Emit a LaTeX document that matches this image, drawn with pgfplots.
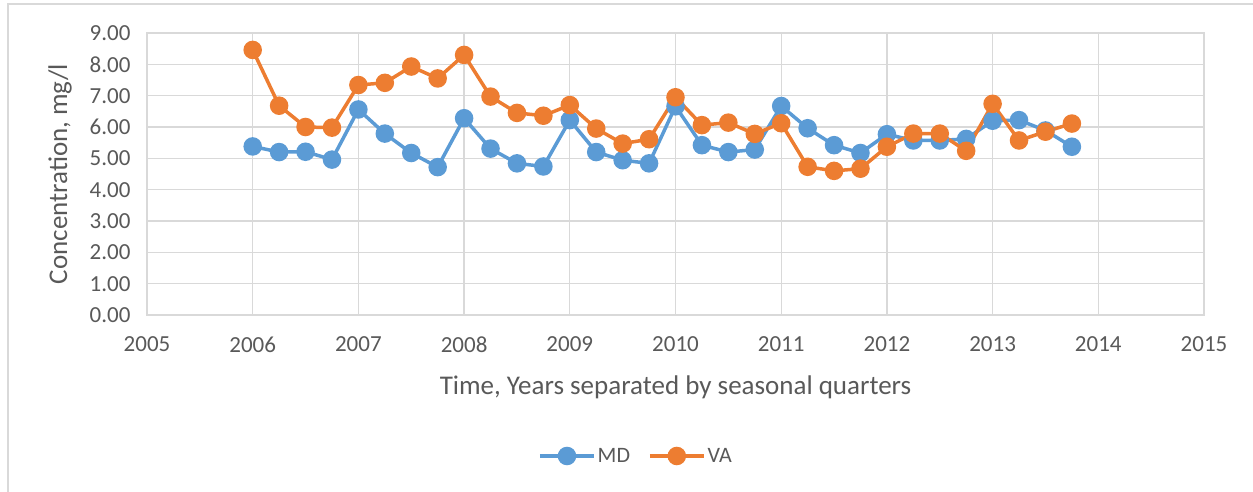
\documentclass[border=0pt]{standalone}
\usepackage{fontspec}
\setmainfont{Carlito}
\usepackage{pgfplots}
\pgfplotsset{compat=1.18}
\definecolor{mdblue}{HTML}{5B9BD5}
\definecolor{vaorange}{HTML}{ED7D31}
\definecolor{txtgray}{HTML}{595959}
\definecolor{gridgray}{HTML}{D9D9D9}
\definecolor{axgray}{HTML}{C8C8C8}
\begin{document}
\begin{tikzpicture}
\path[use as bounding box] (0bp,0bp) rectangle (1253bp,492bp);
\draw[gridgray, line width=2bp] (8bp,0bp) -- (8bp,488bp) -- (1253bp,488bp);
\begin{axis}[
  at={(147bp,177bp)}, anchor=south west,
  scale only axis, width=1057bp, height=282bp,
  xmin=2005, xmax=2015, ymin=0, ymax=9,
  xtick={2005,2006,...,2015}, ytick={0,1,...,9},
  grid=major, major grid style={gridgray, line width=1.3bp},
  axis line style={gridgray, line width=1.3bp},
  x axis line style={axgray},
  tick style={draw=none},
  /pgf/number format/assume math mode=true,
  xticklabel style={font=\fontsize{23bp}{27bp}\selectfont, text=txtgray, yshift=-18bp,
    /pgf/number format/set thousands separator={}},
  yticklabel style={font=\fontsize{23bp}{27bp}\selectfont, text=txtgray, xshift=-13bp,
    /pgf/number format/fixed, /pgf/number format/fixed zerofill, /pgf/number format/precision=2},
  xlabel={Time, Years separated by seasonal quarters},
  ylabel={Concentration, mg/l},
  every axis x label/.style={at={(axis description cs:0.5,-0.2553)}, anchor=center,
    font=\fontsize{27bp}{31bp}\selectfont, text=txtgray},
  every axis y label/.style={at={(axis description cs:-0.0823,0.5)}, anchor=center, rotate=90,
    font=\fontsize{27bp}{31bp}\selectfont, text=txtgray},
  legend columns=2,
  legend style={at={(axis description cs:0.4626,-0.5)}, anchor=center, draw=none,
    font=\fontsize{22bp}{26bp}\selectfont, text=txtgray,
    /tikz/every even column/.append style={column sep=16bp}},
  legend image code/.code={\draw[mark repeat=2, mark phase=2] plot coordinates {(0bp,0bp) (27bp,0bp) (54bp,0bp)};},
  clip=false,
]
\addplot[mdblue, line width=3.5bp, mark=*, mark size=7.5bp, mark options={solid, fill=mdblue}] coordinates {
(2006,5.38) (2006.25,5.20) (2006.5,5.21) (2006.75,4.96)
(2007,6.56) (2007.25,5.79) (2007.5,5.17) (2007.75,4.72)
(2008,6.28) (2008.25,5.31) (2008.5,4.84) (2008.75,4.74)
(2009,6.22) (2009.25,5.20) (2009.5,4.94) (2009.75,4.84)
(2010,6.66) (2010.25,5.42) (2010.5,5.20) (2010.75,5.28)
(2011,6.67) (2011.25,5.96) (2011.5,5.42) (2011.75,5.17)
(2012,5.77) (2012.25,5.57) (2012.5,5.57) (2012.75,5.62)
(2013,6.20) (2013.25,6.22) (2013.5,5.89) (2013.75,5.37)
};
\addlegendentry{MD}
\addplot[vaorange, line width=3.5bp, mark=*, mark size=7.5bp, mark options={solid, fill=vaorange}] coordinates {
(2006,8.46) (2006.25,6.68) (2006.5,6.00) (2006.75,5.98)
(2007,7.34) (2007.25,7.41) (2007.5,7.93) (2007.75,7.55)
(2008,8.30) (2008.25,6.97) (2008.5,6.45) (2008.75,6.36)
(2009,6.70) (2009.25,5.95) (2009.5,5.47) (2009.75,5.61)
(2010,6.95) (2010.25,6.06) (2010.5,6.14) (2010.75,5.78)
(2011,6.12) (2011.25,4.73) (2011.5,4.60) (2011.75,4.67)
(2012,5.37) (2012.25,5.79) (2012.5,5.79) (2012.75,5.24)
(2013,6.74) (2013.25,5.57) (2013.5,5.85) (2013.75,6.11)
};
\addlegendentry{VA}
\end{axis}
\end{tikzpicture}
\end{document}
